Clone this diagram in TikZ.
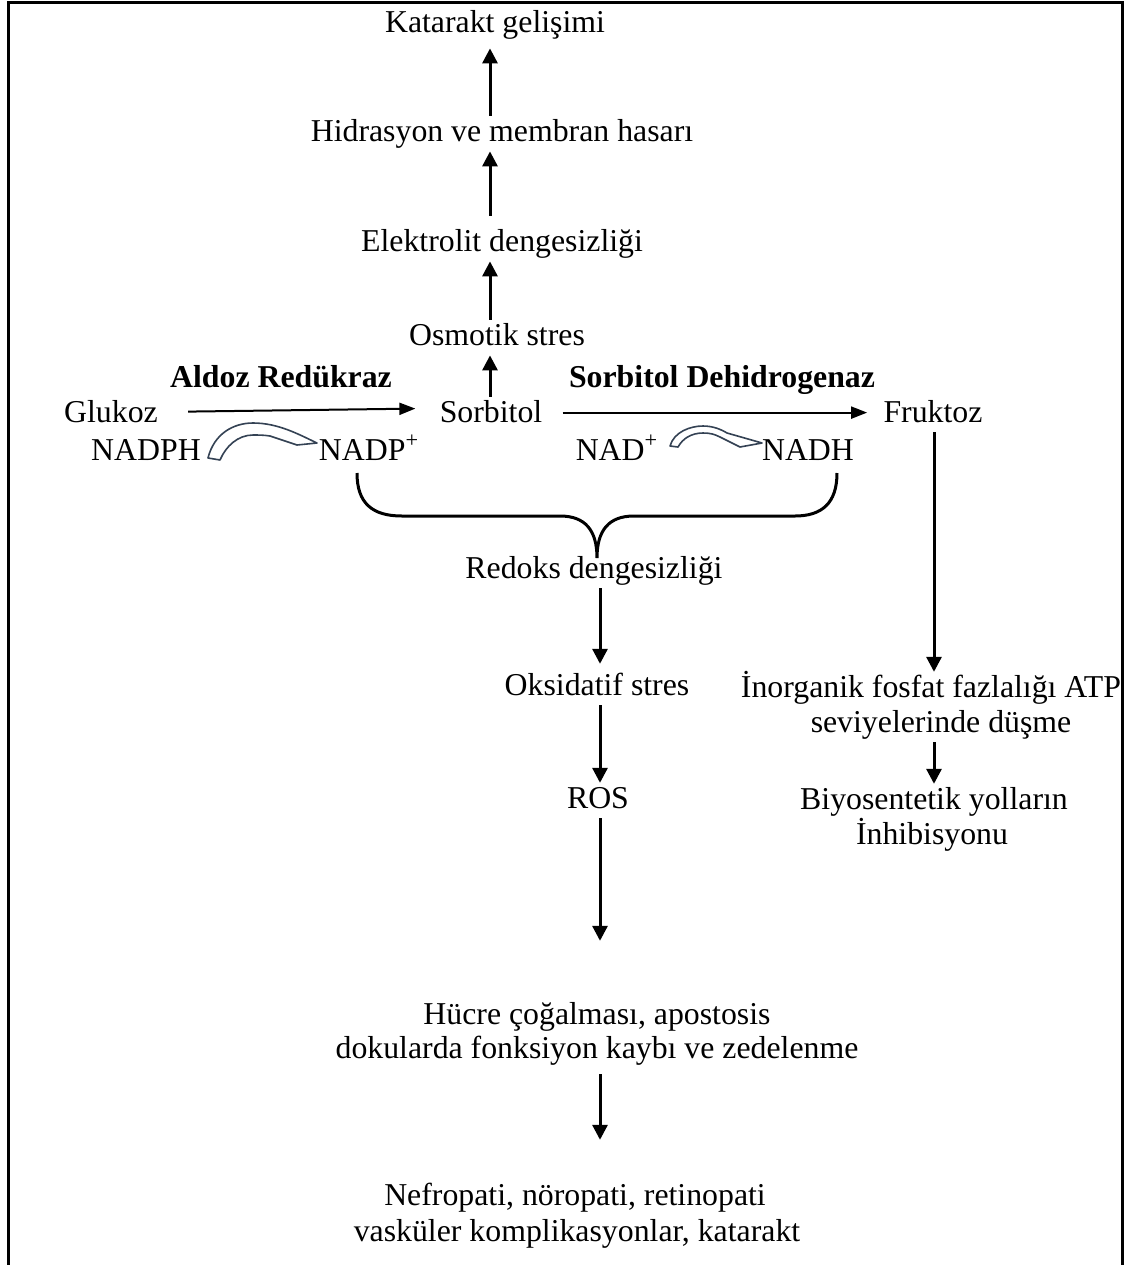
\documentclass[tikz,border=0pt]{standalone}
\usepackage{fontspec}
\setmainfont{Liberation Serif}
\usetikzlibrary{arrows.meta, calc}

\definecolor{cofcol}{RGB}{52,66,84}

\tikzset{
    lbl/.style={inner sep=1pt, anchor=base, text height=11.4pt, text depth=4pt,
        font=\fontsize{15.9}{17.5}\selectfont},
    enz/.style={lbl, font=\fontsize{15.9}{17.5}\selectfont\bfseries},
    arr/.style={line width=1.5pt, -{Triangle[length=7.5pt,width=7.5pt]}},
    harr/.style={line width=1pt, -{Triangle[length=8pt,width=6pt]}},
    cofshape/.style={fill=white, draw=cofcol, line width=0.8pt, line join=round},
}

\begin{document}
\begin{tikzpicture}[x=0.5pt, y=-0.5pt]
    \useasboundingbox (0,0) rectangle (1141,1265);

    % Columns for the arrows
    \coordinate (topx) at (490,0);
    \coordinate (midx) at (600,0);
    \coordinate (frx) at (934,0);

    % Upper chain
    \node[lbl] (katarakt) at (495,32) {Katarakt gelişimi};
    \node[lbl] (hidr) at (502,141) {Hidrasyon ve membran hasarı};
    \node[lbl] (elek) at (502,251) {Elektrolit dengesizliği};
    \node[lbl] (osm) at (497,345) {Osmotik stres};

    % Enzymes
    \node[enz] (ar) at (281,387) {Aldoz Redükraz};
    \node[enz] (sdh) at (722,387) {Sorbitol Dehidrogenaz};

    % Polyol pathway
    \node[lbl] (gluk) at (111,422) {Glukoz};
    \node[lbl] (sorb) at (491,422) {Sorbitol};
    \node[lbl] (fruk) at (933,422) {Fruktoz};

    % Cofactors
    \node[lbl] (nadph) at (146,460) {NADPH};
    \node[lbl] (nadp) at (369,460) {NADP\textsuperscript{+}};
    \node[lbl] (nad) at (617,460) {NAD\textsuperscript{+}};
    \node[lbl] (nadh) at (808,460) {NADH};

    % Lower chain
    \node[lbl] (redoks) at (594,578) {Redoks dengesizliği};
    \node[lbl] (oks) at (597,695) {Oksidatif stres};
    \node[lbl] (ros) at (598,808) {ROS};
    \node[lbl] (hucre) at (597,1024) {Hücre çoğalması, apostosis};
    \node[lbl] (doku) at (597,1058) {dokularda fonksiyon kaybı ve zedelenme};
    \node[lbl] (nefro) at (575,1205) {Nefropati, nöropati, retinopati};
    \node[lbl] (vask) at (577,1241) {vasküler komplikasyonlar, katarakt};

    % Fructose branch
    \node[lbl] (inorg) at (931,697) {İnorganik fosfat fazlalığı ATP};
    \node[lbl] (sevi) at (941,732) {seviyelerinde düşme};
    \node[lbl] (biyo) at (934,809) {Biyosentetik yolların};
    \node[lbl] (inhib) at (932,844) {İnhibisyonu};

    % Arrows
    \draw[arr] (sorb.north -| topx) -- (osm.south -| topx);
    \draw[arr] (osm.north -| topx) -- (elek.south -| topx);
    \draw[arr, shorten <=5pt] (elek.north -| topx) -- (hidr.south -| topx);
    \draw[arr] (hidr.north -| topx) -- ([yshift=-3pt]katarakt.south -| topx);

    \draw[harr] ([shift={(28,-3)}]gluk.east) -- ([shift={(-22,-6)}]sorb.west);
    \draw[harr] ([shift={(18,-2)}]sorb.east) -- ([shift={(-14,-2)}]fruk.west);

    \draw[arr] (redoks.south -| midx) -- ([yshift=3pt]oks.north -| midx);
    \draw[arr] (oks.south -| midx) -- (ros.north -| midx);
    \draw[arr, shorten >=29pt] (ros.south -| midx) -- (hucre.north -| midx);
    \draw[arr, shorten <=3pt, shorten >=20pt] (doku.south -| midx) -- (nefro.north -| midx);

    \draw[arr] (fruk.south -| frx) -- (inorg.north -| frx);
    \draw[arr] (sevi.south -| frx) -- (biyo.north -| frx);

    % Cofactor turnover
    \begin{scope}[shift={(208,458)}]
        \filldraw[cofshape] (0,0) .. controls (6,-24) and (25,-35) .. (45,-35)
            .. controls (70,-35) and (90,-24) .. (109,-15) -- (89,-13)
            -- (62,-22) .. controls (56,-23) and (50,-23) .. (45,-23)
            .. controls (30,-23) and (18,-12) .. (12,2) -- cycle;
    \end{scope}
    \begin{scope}[shift={(670,446)}]
        \filldraw[cofshape] (0,0) .. controls (4,-14) and (20,-20) .. (33,-20)
            .. controls (44,-20) and (52,-16) .. (57,-13) -- (92,-3) -- (70,1)
            -- (50,-9) .. controls (44,-12) and (40,-13) .. (33,-13)
            .. controls (22,-13) and (13,-8) .. (8,1) -- cycle;
    \end{scope}

    % Brace
    \draw[line width=1.5pt] (357,473) .. controls (357,503) and (372,516) .. (402,516)
        -- (560,516) .. controls (585,516) and (597,530) .. (597,558)
        .. controls (597,530) and (609,516) .. (634,516)
        -- (795,516) .. controls (822,516) and (837,503) .. (837,473);

    % Frame, open at the bottom
    \draw[line width=1.5pt] (8,1265) -- (8,2.5) -- (1122,2.5) -- (1122,1265);
\end{tikzpicture}
\end{document}
